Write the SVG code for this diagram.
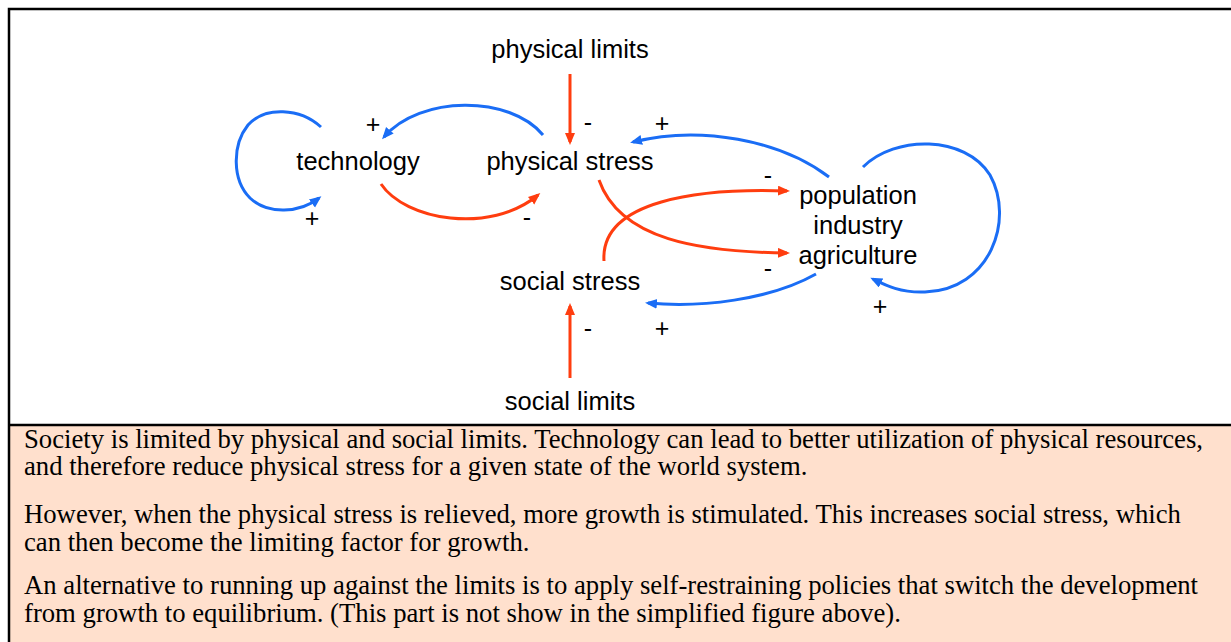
<svg xmlns="http://www.w3.org/2000/svg" width="1231" height="642" viewBox="0 0 1231 642">
<style>
.lbl{font-family:"Liberation Sans",Arial,sans-serif;font-size:25.5px;fill:#000;text-anchor:middle}
.sg{font-family:"Liberation Sans",Arial,sans-serif;font-size:25px;fill:#000;text-anchor:middle}
.para{font-family:"Liberation Serif","Times New Roman",serif;font-size:26.7px;fill:#000}
.b{fill:none;stroke:#1A6DF5;stroke-width:3}
.r{fill:none;stroke:#FF3D0F;stroke-width:3}
</style>
<defs>
<marker id="ab" markerUnits="userSpaceOnUse" markerWidth="14" markerHeight="12" refX="9" refY="5" orient="auto"><path d="M0,0 L12,5 L0,10 z" fill="#1A6DF5"/></marker>
<marker id="ar" markerUnits="userSpaceOnUse" markerWidth="14" markerHeight="12" refX="9" refY="5" orient="auto"><path d="M0,0 L12,5 L0,10 z" fill="#FF3D0F"/></marker>
</defs>
<rect x="0" y="0" width="1231" height="642" fill="#fff"/>
<rect x="9" y="425" width="1222" height="217" fill="#FFE0CD"/>
<g id="frame" stroke="#000" stroke-width="2.5" fill="none">
<path d="M9,642 L9,9 L1231,9"/>
<path d="M9,425 L1231,425"/>
</g>
<g id="connectors">
<path class="r" d="M570,74 L570,142" marker-end="url(#ar)"/>
<path class="r" d="M570,378 L570,306" marker-end="url(#ar)"/>
<path class="r" d="M381,184 C405,220 490,235 538,195" marker-end="url(#ar)"/>
<path class="b" d="M543,135 C510,95 420,95 384,137" marker-end="url(#ab)"/>
<path class="b" d="M321,127 C300,108 265,106 248,125 C232,145 232,180 250,198 C268,215 300,213 319,198" marker-end="url(#ab)"/>
<path class="b" d="M829,177 C780,140 700,125 633,142" marker-end="url(#ab)"/>
<path class="r" d="M604,261 C600,200 700,188 787,191" marker-end="url(#ar)"/>
<path class="r" d="M599,180 C620,240 700,252 787,253" marker-end="url(#ar)"/>
<path class="b" d="M816,274 C770,300 700,308 648,303" marker-end="url(#ab)"/>
<path class="b" d="M863,167 C895,135 965,135 990,175 C1015,220 990,290 925,292 C900,293 885,285 873,279" marker-end="url(#ab)"/>
</g>
<g id="signs">
<text class="sg" x="373" y="133">+</text>
<text class="sg" x="312" y="227">+</text>
<text class="sg" x="527" y="226">-</text>
<text class="sg" x="588" y="131">-</text>
<text class="sg" x="662" y="132">+</text>
<text class="sg" x="768" y="184">-</text>
<text class="sg" x="768" y="277">-</text>
<text class="sg" x="588" y="337">-</text>
<text class="sg" x="662" y="337">+</text>
<text class="sg" x="880" y="315">+</text>
</g>
<g id="physical-limits"><text class="lbl" x="570" y="58">physical limits</text></g>
<g id="technology"><text class="lbl" x="358" y="170">technology</text></g>
<g id="physical-stress"><text class="lbl" x="570" y="170">physical stress</text></g>
<g id="population"><text class="lbl" x="858" y="204">population</text><text class="lbl" x="858" y="234">industry</text><text class="lbl" x="858" y="264">agriculture</text></g>
<g id="social-stress"><text class="lbl" x="570" y="290">social stress</text></g>
<g id="social-limits"><text class="lbl" x="570" y="410">social limits</text></g>
<g id="caption">
<text class="para" x="24" y="448">Society is limited by physical and social limits. Technology can lead to better utilization of physical resources,</text>
<text class="para" x="24" y="475">and therefore reduce physical stress for a given state of the world system.</text>
<text class="para" x="24" y="523">However, when the physical stress is relieved, more growth is stimulated. This increases social stress, which</text>
<text class="para" x="24" y="551">can then become the limiting factor for growth.</text>
<text class="para" x="24" y="594">An alternative to running up against the limits is to apply self-restraining policies that switch the development</text>
<text class="para" x="24" y="622">from growth to equilibrium. (This part is not show in the simplified figure above).</text>
</g>
</svg>
